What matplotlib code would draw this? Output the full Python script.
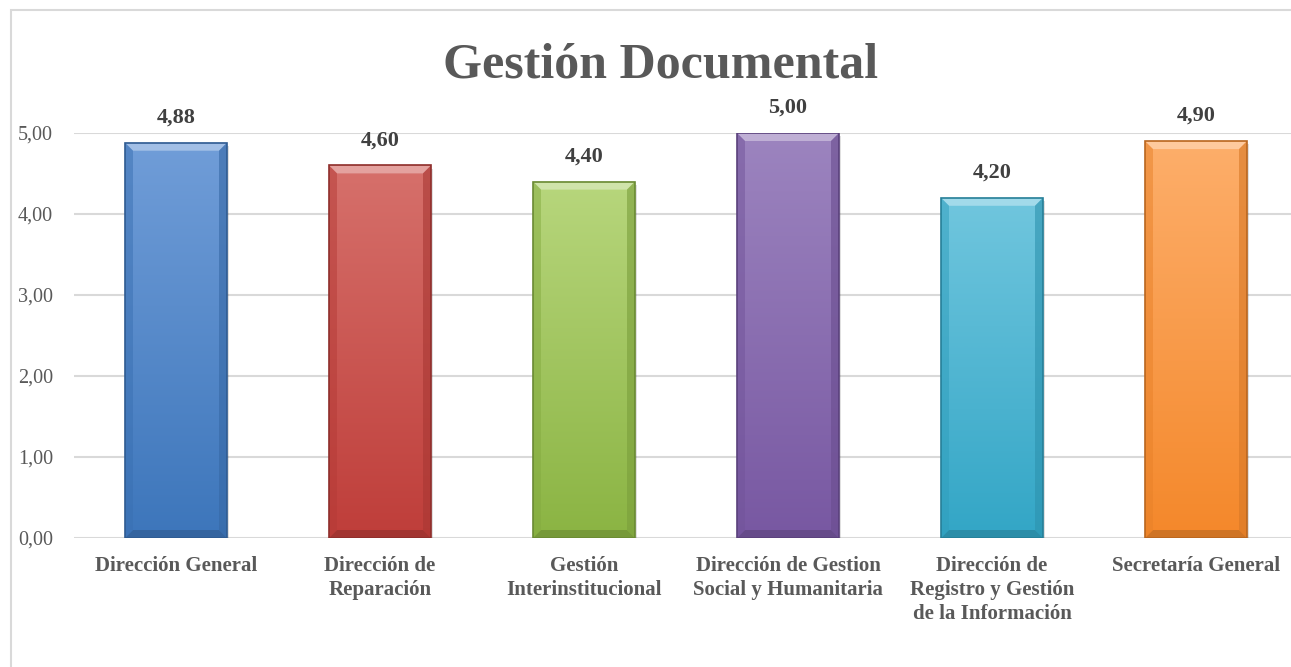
import matplotlib
matplotlib.use("Agg")
import matplotlib.pyplot as plt
import numpy as np
from matplotlib.patches import Rectangle, Polygon
from matplotlib.colors import to_rgb

categories = ["Dirección General", "Dirección de\nReparación", "Gestión\nInterinstitucional",
              "Dirección de Gestion\nSocial y Humanitaria", "Dirección de\nRegistro y Gestión\nde la Información",
              "Secretaría General"]
values = [4.88, 4.60, 4.40, 5.00, 4.20, 4.90]
value_labels = ["4,88", "4,60", "4,40", "5,00", "4,20", "4,90"]
yticks = [0, 1, 2, 3, 4, 5]
ytick_labels = ["0,00", "1,00", "2,00", "3,00", "4,00", "5,00"]
title = "Gestión Documental"
top_colors = ["#709dd8", "#d6706b", "#b7d67c", "#9c84bf", "#70c6de", "#fdae6a"]
bot_colors = ["#3d76bb", "#bf3e3a", "#8bb443", "#7858a2", "#33a6c6", "#f4882b"]
edge_colors = ["#2f5b91", "#8e2e2b", "#6a8a33", "#5a417c", "#267f98", "#b9661f"]

W, H = 1291, 667
fig = plt.figure(figsize=(W / 100, H / 100), dpi=100)
fig.patch.set_facecolor("white")

# chart border (cropped on the right and bottom)
fig.patches.append(Rectangle((11 / W, -0.1), 1.2, 1 - 10 / H + 0.1, transform=fig.transFigure,
                             fill=False, edgecolor="#d9d9d9", linewidth=1.5))

ax = fig.add_axes([74 / W, (H - 538) / H, 1224 / W, (538 - 133) / H])
ax.set_xlim(-0.5, len(values) - 0.5)
ax.set_ylim(0, 5)
for s in ax.spines.values():
    s.set_visible(False)
ax.set_yticks(yticks)
ax.set_yticklabels(ytick_labels)
ax.yaxis.grid(True, color="#d9d9d9", linewidth=1.5)
ax.set_axisbelow(True)
ax.tick_params(axis="y", length=0, pad=15, labelsize=14.5, labelcolor="#595959")
ax.tick_params(axis="x", length=0, pad=13)
ax.set_xticks(range(len(values)))
ax.set_xticklabels(categories, fontsize=15, fontweight="bold", color="#595959",
                   linespacing=1.25, va="top", ha="center")
for lbl in ax.get_yticklabels() + ax.get_xticklabels():
    lbl.set_family("Liberation Serif")

bw = 0.5
bx = 8 / 204  # bevel size in x (category units)
by = 8 / 81   # bevel size in y (data units)

def mix(c, t, f):
    c = np.array(to_rgb(c)); t = np.array(to_rgb(t))
    return tuple(c * (1 - f) + t * f)

for i, v in enumerate(values):
    x0, x1 = i - bw / 2, i + bw / 2
    # shadow
    ax.add_patch(Rectangle((x0 + 0.012, -0.04), bw, v, facecolor="#000000", alpha=0.12,
                           edgecolor="none", zorder=1.5))
    # gradient fill
    rect = Rectangle((x0, 0), bw, v, facecolor="none", edgecolor="none", zorder=2)
    ax.add_patch(rect)
    n = 64
    c0 = np.array(to_rgb(top_colors[i])); c1 = np.array(to_rgb(bot_colors[i]))
    t = np.linspace(0, 1, n)[:, None]
    grad = (c0 * (1 - t) + c1 * t)[:, None, :]
    im = ax.imshow(grad, extent=(x0, x1, 0, v), aspect="auto", zorder=2, origin="upper",
                   interpolation="bilinear")
    im.set_clip_path(rect)
    # bevels
    ax.add_patch(Polygon([(x0, v), (x1, v), (x1 - bx, v - by), (x0 + bx, v - by)],
                         closed=True, facecolor=mix(top_colors[i], "white", 0.35),
                         edgecolor="none", zorder=2.5))
    ax.add_patch(Polygon([(x0, 0), (x1, 0), (x1 - bx, by), (x0 + bx, by)],
                         closed=True, facecolor=mix(bot_colors[i], "black", 0.15),
                         edgecolor="none", zorder=2.5))
    ax.add_patch(Polygon([(x1, 0), (x1, v), (x1 - bx, v - by), (x1 - bx, by)],
                         closed=True, facecolor=mix(bot_colors[i], "black", 0.12), alpha=0.6,
                         edgecolor="none", zorder=2.5))
    ax.add_patch(Polygon([(x0, 0), (x0, v), (x0 + bx, v - by), (x0 + bx, by)],
                         closed=True, facecolor=mix(bot_colors[i], "black", 0.05), alpha=0.5,
                         edgecolor="none", zorder=2.5))
    ax.add_patch(Rectangle((x0, 0), bw, v, facecolor="none", edgecolor=edge_colors[i],
                           linewidth=1.2, zorder=3))
    ax.annotate(value_labels[i], (i, v), xytext=(0, 11), textcoords="offset points",
                ha="center", va="bottom", fontsize=16, fontweight="bold", color="#404040",
                family="Liberation Serif", annotation_clip=False)

fig.text(661 / W, 1 - 78 / H, title, ha="center", va="baseline", fontsize=36,
         fontweight="bold", color="#595959", family="Liberation Serif")

fig.savefig("out.png", dpi=100)
